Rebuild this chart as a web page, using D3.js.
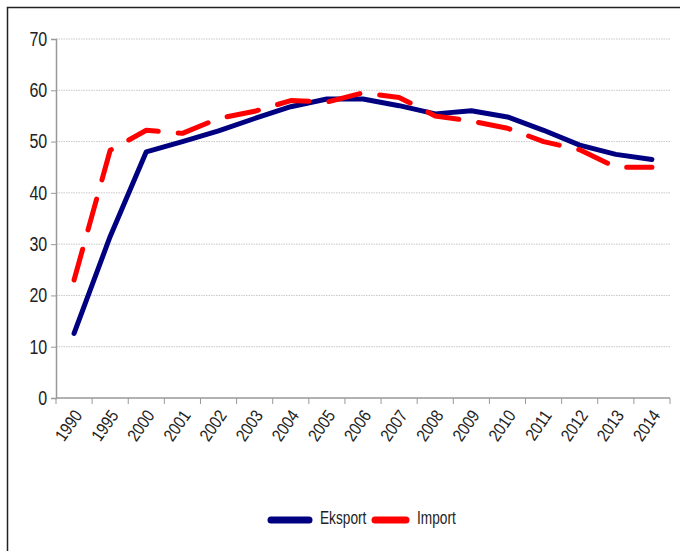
<!DOCTYPE html>
<html>
<head>
<meta charset="utf-8">
<script src="https://cdn.jsdelivr.net/npm/d3@7"></script>
<style>
  body { margin: 0; background: #fff; }
  svg text { font-family: "Liberation Sans", Arial, sans-serif; fill: #222; }
</style>
</head>
<body>
<svg id="chart" width="680" height="551"></svg>
<script>
const years = ['1990', '1995', '2000', '2001', '2002', '2003', '2004', '2005', '2006',
  '2007', '2008', '2009', '2010', '2011', '2012', '2013', '2014'];
const eksport = [12.6, 31.5, 48, 50, 52.1, 54.5, 56.8, 58.3, 58.3, 57, 55.4, 56, 54.8, 52.2, 49.3, 47.5, 46.5];
const importVals = [23, 48.3, 52.2, 51.6, 54.5, 55.9, 58, 57.7, 59.5, 58.6, 55, 54, 52.6, 50, 48.4, 45, 45];
const yTicks = [0, 10, 20, 30, 40, 50, 60, 70];

const svg = d3.select('#chart');

// outer frame
svg.append('rect')
  .attr('x', 7.5).attr('y', 7.5)
  .attr('width', 690).attr('height', 580)
  .attr('fill', 'none').attr('stroke', '#222').attr('stroke-width', 1.5);

const plotLeft = 56, plotRight = 670, plotTop = 39, plotBottom = 398;

const x = d3.scaleBand().domain(years).range([plotLeft, plotRight]);
const y = d3.scaleLinear().domain([0, 70]).range([plotBottom, plotTop]);

// gridlines
svg.append('g')
  .selectAll('line')
  .data(yTicks.filter(d => d > 0))
  .join('line')
  .attr('x1', plotLeft).attr('x2', plotRight)
  .attr('y1', d => y(d)).attr('y2', d => y(d))
  .attr('stroke', '#c8c8c8').attr('stroke-width', 1)
  .attr('stroke-dasharray', '1.5,1');

// y axis
const yAxis = svg.append('g')
  .attr('transform', `translate(${plotLeft},0)`)
  .call(d3.axisLeft(y).tickValues(yTicks).tickSize(5).tickPadding(0));
yAxis.select('.domain').attr('stroke', '#999').attr('stroke-width', 1.5);
yAxis.selectAll('.tick line').attr('stroke', '#999');
yAxis.selectAll('.tick text')
  .attr('x', -11)
  .attr('font-size', 20)
  .attr('transform', 'scale(0.8,1)')
  .style('fill', '#222');

// x axis with ticks on band edges
const xAxis = svg.append('g')
  .attr('transform', `translate(0,${plotBottom})`);
xAxis.append('line')
  .attr('x1', plotLeft).attr('x2', plotRight)
  .attr('stroke', '#999').attr('stroke-width', 1.5);
xAxis.selectAll('line.edge')
  .data(years.concat(['end']))
  .join('line')
  .attr('class', 'edge')
  .attr('x1', (d, i) => plotLeft + i * x.step())
  .attr('x2', (d, i) => plotLeft + i * x.step())
  .attr('y1', 0).attr('y2', 6)
  .attr('stroke', '#999');
xAxis.selectAll('text')
  .data(years)
  .join('text')
  .attr('transform', d => `translate(${x(d) + x.bandwidth() / 2 + 4},${14}) rotate(-55) scale(0.85,1)`)
  .attr('text-anchor', 'end')
  .attr('dy', '0.35em')
  .attr('font-size', 17.5)
  .text(d => d);

const line = d3.line()
  .x((d, i) => x(years[i]) + x.bandwidth() / 2)
  .y(d => y(d));

svg.append('path')
  .datum(eksport)
  .attr('d', line)
  .attr('fill', 'none')
  .attr('stroke', '#000080')
  .attr('stroke-width', 5)
  .attr('stroke-linejoin', 'round')
  .attr('stroke-linecap', 'round');

svg.append('path')
  .datum(importVals)
  .attr('d', line)
  .attr('fill', 'none')
  .attr('stroke', '#ff0000')
  .attr('stroke-width', 5)
  .attr('stroke-dasharray', '32,20')
  .attr('stroke-linejoin', 'round')
  .attr('stroke-linecap', 'round');

// legend
const legend = [
  { name: 'Eksport', color: '#000080', x: 271, w: 38 },
  { name: 'Import', color: '#ff0000', x: 375, w: 31 },
];
const lg = svg.append('g').selectAll('g').data(legend).join('g')
  .attr('transform', d => `translate(${d.x},520)`);
lg.append('line')
  .attr('x1', 0).attr('x2', d => d.w)
  .attr('stroke', d => d.color).attr('stroke-width', 7)
  .attr('stroke-linecap', 'round');
lg.append('text')
  .attr('transform', d => `translate(${d.w + 11},0) scale(0.72,1)`)
  .attr('dy', '0.2em')
  .attr('font-size', 19)
  .text(d => d.name);
</script>
</body>
</html>
